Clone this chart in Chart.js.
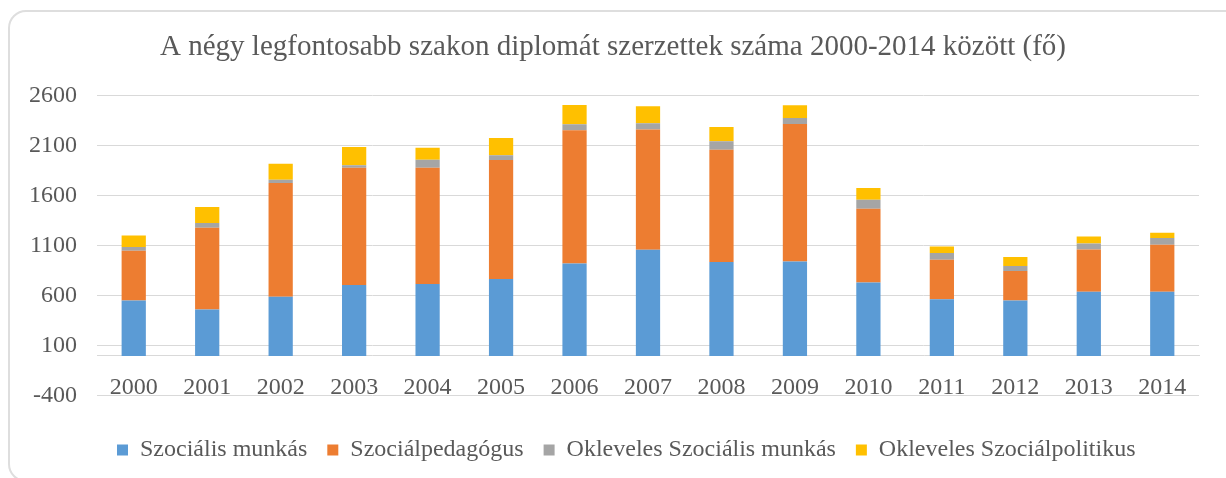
<!DOCTYPE html>
<html><head><meta charset="utf-8">
<script src="https://cdn.jsdelivr.net/npm/chart.js@4/dist/chart.umd.min.js"></script>
<style>
html,body{margin:0;padding:0;background:#fff;overflow:hidden;}
#wrap{position:relative;width:1226px;height:478px;overflow:hidden;}
#frame{position:absolute;left:8px;top:10px;width:1260px;height:472px;border:2px solid #dedede;border-radius:18px;box-sizing:border-box;}
canvas{position:absolute;left:0;top:0;}
</style></head><body>
<div id="wrap"><div id="frame"></div><canvas id="c" width="1226" height="478"></canvas></div>
<script>
const years = ['2000','2001','2002','2003','2004','2005','2006','2007','2008','2009','2010','2011','2012','2013','2014'];
const seriesNames = ['Szociális munkás','Szociálpedagógus','Okleveles Szociális munkás','Okleveles Szociálpolitikus'];
const szocialisMunkas = [555, 465, 592, 708, 718, 768, 925, 1062, 938, 945, 735, 568, 555, 642, 642];
const szocialpedagogus = [497, 817, 1136, 1174, 1164, 1190, 1330, 1200, 1124, 1373, 737, 394, 293, 423, 470];
const oklevelesSzocMunkas = [36, 46, 34, 23, 80, 47, 60, 63, 83, 60, 90, 66, 50, 60, 66];
const oklevelesSzocPolitikus = [117, 160, 160, 183, 120, 173, 193, 170, 143, 127, 116, 67, 90, 70, 54];
const yTicks = [-400, 100, 600, 1100, 1600, 2100, 2600];
const titleText = 'A négy legfontosabb szakon diplomát szerzettek száma 2000-2014 között (fő)';

const colors = ['#5B9BD5', '#ED7D31', '#A5A5A5', '#FFC000'];
const values = [szocialisMunkas, szocialpedagogus, oklevelesSzocMunkas, oklevelesSzocPolitikus];
const FONT = "'Liberation Serif', 'Times New Roman', serif";
const TXT = '#595959';

new Chart(document.getElementById('c'), {
  type: 'bar',
  data: {
    labels: years,
    datasets: values.map((v, i) => ({
      label: seriesNames[i],
      data: v,
      backgroundColor: colors[i],
      borderWidth: 0,
      barPercentage: 0.33,
      categoryPercentage: 1.0
    }))
  },
  options: {
    responsive: false,
    animation: false,
    devicePixelRatio: 1,
    layout: { padding: { left: 27, right: 27, top: 0, bottom: 6 } },
    plugins: {
      tooltip: { enabled: false },
      title: {
        display: true,
        text: titleText,
        color: TXT,
        font: { family: FONT, size: 29, weight: 'normal' },
        padding: { top: 30, bottom: 31 }
      },
      legend: {
        position: 'bottom',
        align: 'start',
        fullSize: false,
        labels: {
          boxWidth: 11,
          boxHeight: 11,
          padding: 20,
          color: TXT,
          font: { family: FONT, size: 24 }
        }
      }
    },
    scales: {
      x: {
        stacked: true,
        position: { y: 0 },
        grid: { display: true, drawOnChartArea: false, drawTicks: false },
        border: { display: true, color: '#d9d9d9', width: 1 },
        ticks: { color: TXT, font: { family: FONT, size: 24 }, padding: 17, maxRotation: 0, autoSkip: false }
      },
      y: {
        stacked: true,
        min: -620,
        max: 2600,
        afterBuildTicks: (s) => { s.ticks = yTicks.map(v => ({ value: v })); },
        afterFit: (s) => { s.width = 70; },
        grid: { color: '#d9d9d9', lineWidth: 1, drawTicks: false },
        border: { display: false },
        ticks: { color: TXT, font: { family: FONT, size: 24 }, padding: 20, callback: (v) => String(v) }
      }
    }
  }
});
</script>
</body></html>
